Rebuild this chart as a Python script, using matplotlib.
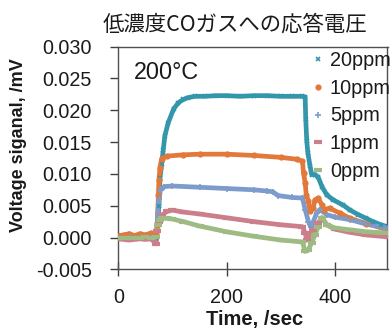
import matplotlib
matplotlib.use("Agg")
import matplotlib.pyplot as plt

# ---- data ----
t20 = [0, 10, 20, 30, 40, 50, 60, 70, 73, 75, 77, 80, 83, 86, 92, 102, 111, 120, 129, 142, 160,
       180, 200, 225, 250, 275, 300, 320, 340, 345, 346, 348, 350, 354, 357, 363, 369, 376,
       385, 397, 415, 428, 443, 458, 470, 485, 497]
v20 = [0.0000, 0.0001, -0.0001, 0.0000, 0.0001, 0.0000, 0.0001, 0.0000, 0.0020, 0.0049, 0.0094,
       0.0115, 0.0138, 0.0160, 0.0180, 0.0202, 0.0212, 0.0217, 0.0220, 0.0222, 0.0222,
       0.0223, 0.0223, 0.0222, 0.0223, 0.0223, 0.0222, 0.0222, 0.0222, 0.0221, 0.0187, 0.0151,
       0.0133, 0.0112, 0.0099, 0.0099, 0.0095, 0.0080, 0.0067, 0.0059, 0.0051, 0.0043, 0.0036,
       0.0030, 0.0025, 0.0020, 0.0017]

t10 = [0, 10, 20, 30, 40, 50, 60, 70, 72, 74, 75, 77, 80, 90, 120, 150, 200, 250, 300, 330,
       340, 342, 345, 347, 351, 354, 360, 363, 369, 376, 379, 390, 410, 428, 458, 497]
v10 = [0.0003, 0.0004, 0.0006, 0.0003, 0.0006, 0.0004, 0.0007, 0.0004, 0.0020, 0.0067, 0.0090,
       0.0110, 0.0124, 0.0128, 0.0130, 0.0131, 0.0131, 0.0129, 0.0126, 0.0123,
       0.0120, 0.0101, 0.0086, 0.0067, 0.0057, 0.0042, 0.0047, 0.0059, 0.0062, 0.0051,
       0.0044, 0.0046, 0.0038, 0.0030, 0.0022, 0.0012]

t5 = [0, 10, 20, 30, 40, 50, 60, 70, 73, 75, 78, 85, 100, 150, 200, 250, 275, 285, 295, 320,
      340, 345, 351, 355, 360, 366, 372, 385, 400, 428, 458, 497]
v5 = [0.0000, 0.0000, 0.0001, 0.0000, -0.0001, 0.0000, 0.0001, 0.0000, 0.0039, 0.0060, 0.0075,
      0.0080, 0.0081, 0.0079, 0.0077, 0.0075, 0.0073, 0.0072, 0.0066, 0.0063,
      0.0062, 0.0044, 0.0025, 0.0017, 0.0025, 0.0038, 0.0044, 0.0036, 0.0032, 0.0028,
      0.0021, 0.0015]

t1 = [0, 10, 20, 30, 40, 50, 60, 70, 72, 75, 80, 90, 100, 120, 150, 200, 250, 300, 340,
      345, 348, 354, 360, 369, 376, 385, 400, 428, 458, 497]
v1 = [-0.0002, -0.0003, -0.0004, -0.0003, -0.0002, -0.0003, -0.0002, -0.0010, 0.0010,
      0.0025, 0.0035, 0.0041, 0.0043, 0.0040, 0.0037, 0.0031, 0.0025, 0.0020, 0.0017,
      0.0007, -0.0004, 0.0004, 0.0012, 0.0023, 0.0031, 0.0020, 0.0013, 0.0008, 0.0004,
      0.0001]

t0 = [0, 10, 20, 30, 40, 50, 60, 70, 73, 77, 80, 90, 100, 120, 150, 200, 250, 300, 340,
      345, 351, 357, 363, 369, 376, 385, 400, 428, 458, 497]
v0 = [0.0000, 0.0000, -0.0001, 0.0000, 0.0000, 0.0001, 0.0000, 0.0001, 0.0020, 0.0028,
      0.0031, 0.0030, 0.0029, 0.0025, 0.0018, 0.0009, 0.0002, -0.0004, -0.0007,
      -0.0022, -0.0019, -0.0008, 0.0004, 0.0017, 0.0031, 0.0020, 0.0015, 0.0012, 0.0009,
      0.0007]

labels = ["20ppm", "10ppm", "5ppm", "1ppm", "0ppm"]
yticks = [-0.005, 0.000, 0.005, 0.010, 0.015, 0.020, 0.025, 0.030]
xticks = [0, 200, 400]
title = "低濃度COガスへの応答電圧"

# ---- styles ----
series = [
    (t20, v20, "#3396AB", dict(marker="x", ms=3.5, mew=1.2)),
    (t10, v10, "#E2793A", dict(marker="o", ms=4.5, mew=0)),
    (t5, v5, "#7D9BCB", dict(marker="+", ms=4.5, mew=1.2)),
    (t1, v1, "#CC7F8B", dict(marker="_", ms=6, mew=3)),
    (t0, v0, "#9DBB82", dict(marker="_", ms=6, mew=3)),
]

fig = plt.figure(figsize=(3.91, 3.32), dpi=100)
ax = fig.add_axes([118.3 / 391, 1 - 269.3 / 332, (387.5 - 118.3) / 391, (269.3 - 46.7) / 332])

handles = []
for (t, v, c, mk), lab in zip(series, labels):
    ax.plot(t, v, color=c, lw=3.4, solid_capstyle="round", zorder=2)
    h, = ax.plot(t, v, linestyle="none", color=c, mfc=c, mec=c, label=lab, zorder=3, **mk)
    handles.append(h)

ax.set_xlim(0, 497)
ax.set_ylim(-0.005, 0.030)
ax.set_xticks(xticks)
ax.set_yticks(yticks)
ax.set_xticklabels([str(x) for x in xticks])
ax.set_yticklabels([f"{y:.3f}" for y in yticks])

for lab in ax.get_xticklabels() + ax.get_yticklabels():
    lab.set_fontfamily("Liberation Sans")
    lab.set_fontsize(14.2)
    lab.set_color("#1a1a1a")
ax.tick_params(axis="y", direction="out", length=6, width=1, color="#404040", pad=13)
ax.tick_params(axis="x", direction="inout", length=10, width=1, color="#404040", pad=8.5)

for s in ax.spines.values():
    s.set_color("#505050")
    s.set_linewidth(1)

ax.text(0.056, 0.885, "200°C", transform=ax.transAxes, fontsize=16.8,
        family="Liberation Sans", va="center", ha="left", color="#1a1a1a")

leg = fig.legend(handles=handles, labels=labels, loc="upper left",
                 bbox_to_anchor=(312 / 391, 1 - 51 / 332), frameon=False,
                 prop=dict(family="Liberation Sans", size=14.3),
                 handlelength=0.6, handletextpad=0.3, borderpad=0, borderaxespad=0,
                 labelspacing=0.44, markerscale=1.0)
for txt in leg.get_texts():
    txt.set_color("#1a1a1a")

fig.text(0.60, 0.925, title, ha="center", va="center", fontsize=15.4,
         family=["Noto Sans CJK JP", "DejaVu Sans"], color="#1a1a1a")
fig.text(19 / 391, 1 - 145 / 332, "Voltage siganal, /mV", rotation=90, ha="center",
         va="center", fontsize=13, fontweight="bold", family="Liberation Sans",
         color="#1a1a1a")
fig.text(254.5 / 391, 1 - 320 / 332, "Time, /sec", ha="center", va="center",
         fontsize=14.5, fontweight="bold", family="Liberation Sans", color="#1a1a1a")

fig.savefig("out.png", dpi=100)
